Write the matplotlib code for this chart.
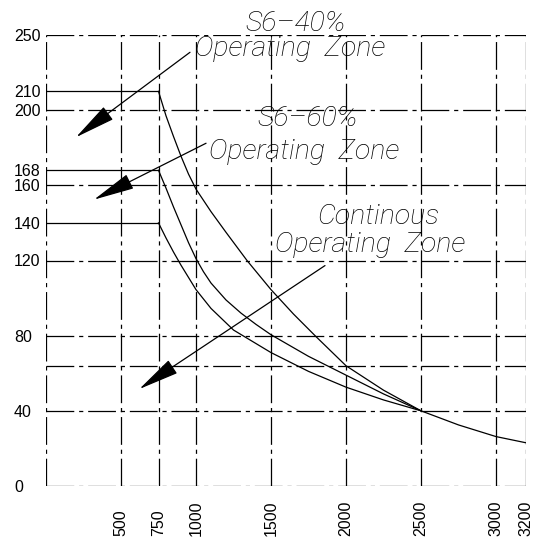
import matplotlib
matplotlib.use('Agg')
import matplotlib.pyplot as plt

plt.rcParams['lines.scale_dashes'] = False

# torque curves (speed in rpm, torque)
rpm_s6_40 = [750, 800, 850, 900, 950, 1000, 1100, 1200, 1340, 1500, 1650, 1800, 2000, 2250, 2500]
torque_s6_40 = [210, 197, 186, 175.5, 166, 158, 146, 135, 120, 104.5, 91.5, 79.5, 64, 51, 40]

rpm_s6_60 = [750, 800, 850, 900, 950, 1000, 1050, 1100, 1200, 1300, 1400, 1500, 1750, 2000, 2250, 2500]
torque_s6_60 = [168, 158.5, 148.5, 139, 129.5, 121, 114, 108, 99, 92, 86, 80.5, 69, 59, 49, 40]

rpm_cont = [750, 800, 850, 900, 1000, 1100, 1250, 1500, 1750, 2000, 2250, 2500]
torque_cont = [140, 132, 124.5, 117.5, 104.5, 94.5, 83, 71, 61, 52.6, 45.8, 40]

rpm_field = [2500, 2750, 3000, 3200]
torque_field = [40, 32.5, 26.3, 23]

# constant torque levels below base speed
base_rpm = 750
const_levels = [210, 168, 140]

x_grid = [0, 500, 750, 1000, 1500, 2000, 2500, 3000, 3200]
y_grid = [0, 40, 64, 80, 120, 160, 200, 240]
y_ticks = [0, 40, 80, 120, 140, 160, 168, 200, 210, 240]
y_ticklabels = ['0', '40', '80', '120', '140', '160', '168', '200', '210', '250']

zone_labels = [
    ('S6\u201340%', 1327, 242),
    ('Operating  Zone', 993, 228.8),
    ('S6\u201360%', 1413, 191.5),
    ('Operating  Zone', 1087, 173.9),
    ('Continous', 1807, 139.2),
    ('Operating  Zone', 1527, 124.3),
]
# (start, tip) of the pointer arrows
arrows = [
    ((960, 230.8), (200, 185.6)),
    ((1067, 182.4), (320, 152.4)),
    ((1860, 117.3), (622, 51.6)),
]

fig = plt.figure(figsize=(5.38, 5.38), dpi=100)
ax = fig.add_axes([46 / 538, 1 - 486 / 538, 480 / 538, 451 / 538])
ax.set_xlim(0, 3200)
ax.set_ylim(0, 240)

dashdot = (0, (20, 3.5, 3, 3.5))
for x in x_grid:
    ax.axvline(x, color='black', lw=0.9, linestyle=dashdot, zorder=1)
for y in y_grid:
    ax.axhline(y, color='black', lw=0.9, linestyle=dashdot, zorder=1)

ax.hlines(const_levels, 0, base_rpm, color='black', lw=0.9)
ax.plot(rpm_s6_40, torque_s6_40, color='black', lw=0.9)
ax.plot(rpm_s6_60, torque_s6_60, color='black', lw=0.9)
ax.plot(rpm_cont, torque_cont, color='black', lw=0.9)
ax.plot(rpm_field, torque_field, color='black', lw=0.9)

for start, tip in arrows:
    ax.annotate('', xy=tip, xytext=start,
                arrowprops=dict(arrowstyle='-|>,head_length=2.6,head_width=0.5',
                                mutation_scale=10, color='black', lw=0.9,
                                shrinkA=0, shrinkB=0))

for txt, x, y in zone_labels:
    ax.text(x, y, txt, ha='left', va='baseline', fontsize=20.5,
            family='Roboto', style='italic', fontweight='light', clip_on=False)

for s in ax.spines.values():
    s.set_visible(False)

ax.set_xticks(x_grid[1:])
ax.set_xticklabels([str(x) for x in x_grid[1:]], rotation=90,
                   family='Liberation Sans', fontsize=11.5)
ax.set_yticks(y_ticks)
ax.set_yticklabels(y_ticklabels, family='Liberation Sans', fontsize=11.5)
ax.tick_params(axis='x', length=0, pad=36)
ax.tick_params(axis='y', length=0, pad=23)
for lab in ax.get_xticklabels():
    lab.set_va('bottom')
for lab in ax.get_yticklabels():
    lab.set_ha('left')

fig.savefig('out.png', dpi=100)
